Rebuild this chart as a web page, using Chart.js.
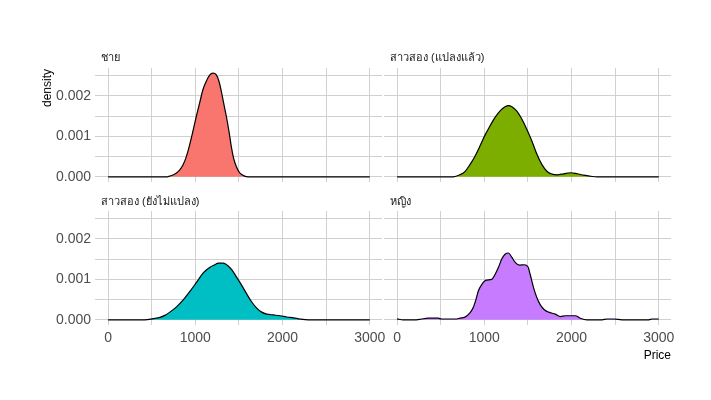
<!DOCTYPE html>
<html><head><meta charset="utf-8">
<script src="https://cdn.jsdelivr.net/npm/chart.js@4/dist/chart.umd.min.js"></script>
<style>
html,body{margin:0;padding:0;background:#fff;}
#wrap{position:relative;width:711px;height:400px;overflow:hidden;font-family:"Liberation Sans",Arial,sans-serif;background:#fff;}
canvas{position:absolute;left:0;top:0;}
.lbl{position:absolute;white-space:nowrap;line-height:1;}
.strip{font-size:11px;color:#1a1a1a;}
</style></head>
<body><div id="wrap">
<canvas id="c1" width="711" height="400"></canvas>
<canvas id="c2" width="711" height="400"></canvas>
<canvas id="c3" width="711" height="400"></canvas>
<canvas id="c4" width="711" height="400"></canvas>
<div class="lbl strip" id="s1" style="left:101px;top:52px;"></div>
<div class="lbl strip" id="s2" style="left:390px;top:52px;"></div>
<div class="lbl strip" id="s3" style="left:101px;top:196px;"></div>
<div class="lbl strip" id="s4" style="left:390px;top:196px;"></div>
<div class="lbl" id="ytitle" style="left:47px;top:88px;font-size:12px;color:#000;transform:translate(-50%,-50%) rotate(-90deg);"></div>
<div class="lbl" id="xtitle" style="right:40px;top:349px;font-size:12px;color:#000;"></div>
</div>
<script>
const panelTitles = ['ชาย', 'สาวสอง (แปลงแล้ว)', 'สาวสอง (ยังไม่แปลง)', 'หญิง'];
const fillColors = ['#F8766D', '#7CAE00', '#00BFC4', '#C77CFF'];
const xTitle = 'Price';
const yTitle = 'density';

const xTickValues = [0, 500, 1000, 1500, 2000, 2500, 3000];
const xTickLabels = ['0', '', '1000', '', '2000', '', '3000'];
const yTickValues = [0, 0.0005, 0.001, 0.0015, 0.002, 0.0025];
const yTickLabels = ['0.000', '', '0.001', '', '0.002', ''];

const maleX = [0, 680, 705, 762, 820, 858, 897, 935, 972, 1011, 1049, 1087, 1126, 1164, 1202, 1241, 1271, 1298, 1325, 1356, 1386, 1413, 1440, 1471, 1509, 1566, 1604, 3000];
const maleY = [0, 0, 0.000017, 0.000066, 0.000165, 0.00029, 0.0005, 0.00079, 0.00112, 0.00149, 0.00182, 0.00215, 0.00236, 0.00251, 0.00256, 0.00252, 0.00236, 0.00211, 0.00182, 0.00149, 0.00112, 0.00074, 0.00045, 0.00025, 0.0001, 0.000017, 0, 0];

const transOpX = [0, 643, 720, 778, 835, 893, 950, 1008, 1066, 1123, 1181, 1238, 1277, 1316, 1373, 1431, 1488, 1546, 1604, 1661, 1719, 1776, 1834, 1910, 1987, 2064, 2140, 2237, 2295, 3000];
const transOpY = [0, 0, 0.00005, 0.00013, 0.0003, 0.00051, 0.00076, 0.00103, 0.00126, 0.00147, 0.00163, 0.00173, 0.00176, 0.00173, 0.00162, 0.00142, 0.00117, 0.00088, 0.00055, 0.0003, 0.00013, 0.000067, 0.00005, 0.000075, 0.0001, 0.000075, 0.00004, 0.000008, 0, 0];

const transX = [0, 421, 517, 594, 651, 708, 785, 861, 938, 1015, 1091, 1168, 1225, 1263, 1320, 1366, 1417, 1474, 1532, 1589, 1647, 1704, 1761, 1819, 1895, 1972, 2048, 2125, 2201, 2297, 3000];
const transY = [0, 0, 0.00003, 0.00006, 0.00011, 0.00019, 0.00032, 0.00049, 0.0007, 0.00093, 0.00116, 0.0013, 0.00136, 0.0014, 0.0014, 0.00135, 0.00124, 0.00105, 0.00085, 0.00064, 0.00044, 0.00029, 0.00019, 0.00014, 0.00012, 0.0001, 0.00007, 0.00005, 0.00002, 0, 0];

const femaleX = [0, 69, 222, 280, 356, 471, 510, 682, 720, 778, 835, 874, 904, 931, 970, 1020, 1085, 1123, 1161, 1200, 1238, 1276, 1316, 1354, 1403, 1457, 1500, 1526, 1565, 1604, 1642, 1688, 1737, 1815, 1872, 1930, 1987, 2043, 2100, 2177, 2350, 2407, 2484, 2579, 2886, 2924, 3000];
const femaleY = [0.000025, 0, 0, 0.00002, 0.00004, 0.00004, 0.00002, 0.00002, 0.00004, 0.000067, 0.00017, 0.00031, 0.0005, 0.00071, 0.00087, 0.00098, 0.001, 0.00112, 0.00129, 0.0015, 0.00162, 0.00165, 0.00154, 0.00142, 0.00135, 0.00136, 0.00131, 0.00112, 0.00079, 0.00054, 0.00037, 0.00025, 0.00019, 0.00014, 0.00008, 0.0001, 0.0001, 0.0001, 0.00004, 0, 0, 0.00002, 0.00002, 0, 0, 0.00002, 0.00002];

const seriesX = [maleX, transOpX, transX, femaleX];
const seriesY = [maleY, transOpY, transY, femaleY];

// panel placement (layout only); axis boxes are 60px wide / 30px tall
const AXW = 60, AXH = 30;
const panelPads = [
  {left: 95 - AXW, top: 68, right: 329, bottom: 218 - AXH},
  {left: 384 - AXW, top: 68, right: 40, bottom: 218 - AXH},
  {left: 95 - AXW, top: 211, right: 329, bottom: 75 - AXH},
  {left: 384 - AXW, top: 211, right: 40, bottom: 75 - AXH}
];
const showXLabels = [false, false, true, true];
const showYLabels = [true, false, true, false];

const gridColor = '#d0d0d0';
const tickFont = {family: '"Liberation Sans", Arial, sans-serif', size: 14};

panelTitles.forEach((t, i) => { document.getElementById('s' + (i + 1)).textContent = t; });
document.getElementById('xtitle').textContent = xTitle;
document.getElementById('ytitle').textContent = yTitle;

for (let i = 0; i < 4; i++) {
  const pts = seriesX[i].map((x, k) => ({x: x, y: seriesY[i][k]}));
  new Chart(document.getElementById('c' + (i + 1)), {
    type: 'line',
    data: {datasets: [{
      data: pts,
      borderColor: '#000000',
      borderWidth: 1.2,
      backgroundColor: fillColors[i],
      fill: 'origin',
      pointRadius: 0,
      cubicInterpolationMode: 'monotone'
    }]},
    options: {
      responsive: false,
      animation: false,
      devicePixelRatio: 1,
      events: [],
      layout: {padding: panelPads[i]},
      plugins: {legend: {display: false}, title: {display: false}, tooltip: {enabled: false}},
      scales: {
        x: {
          type: 'linear', min: -150, max: 3140,
          afterBuildTicks: s => { s.ticks = xTickValues.map(v => ({value: v})); },
          afterFit: s => { s.height = AXH; },
          grid: {color: gridColor, lineWidth: 1, drawTicks: false},
          border: {display: false},
          ticks: {display: showXLabels[i], autoSkip: false, maxRotation: 0, padding: 5,
                  color: '#4d4d4d', font: tickFont,
                  callback: (v, idx) => xTickLabels[idx]}
        },
        y: {
          type: 'linear', min: -0.000128, max: 0.002688,
          afterBuildTicks: s => { s.ticks = yTickValues.map(v => ({value: v})); },
          afterFit: s => { s.width = AXW; },
          grid: {color: gridColor, lineWidth: 1, drawTicks: false},
          border: {display: false},
          ticks: {display: showYLabels[i], autoSkip: false, padding: 4,
                  color: '#4d4d4d', font: tickFont,
                  callback: (v, idx) => yTickLabels[idx]}
        }
      }
    }
  });
}
</script>
</body></html>
